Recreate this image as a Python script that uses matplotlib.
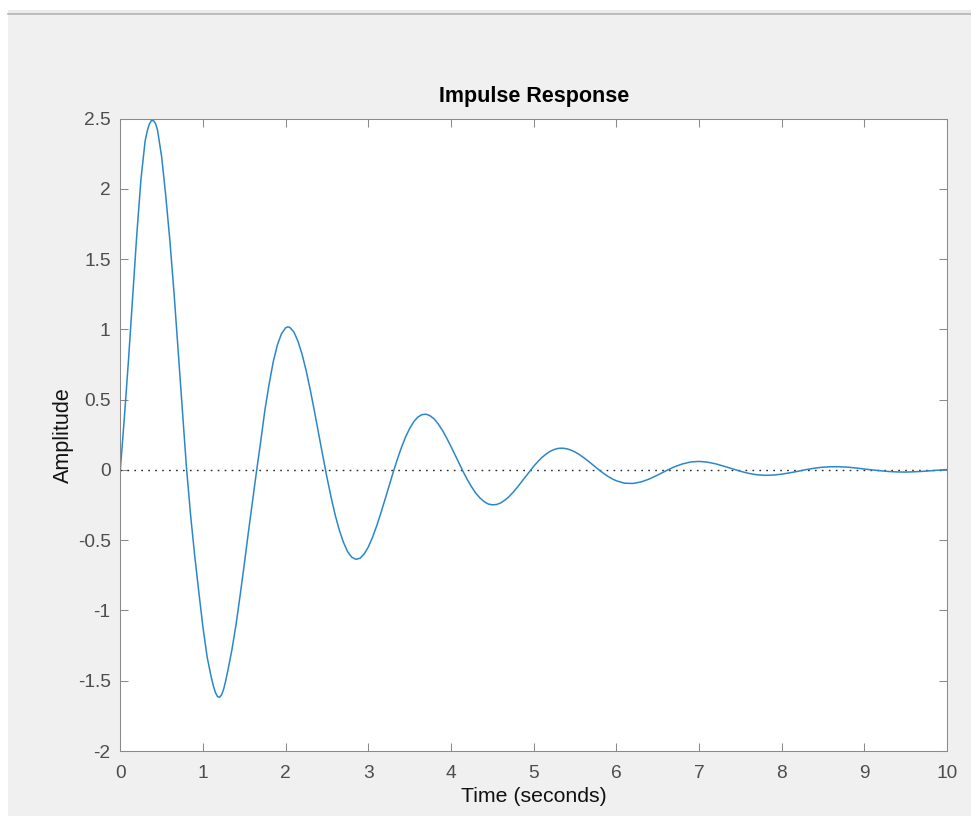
"""
Impulse response of a lightly damped system, redrawn in the look of a
MATLAB figure window.
"""

import matplotlib
matplotlib.use("Agg")
import matplotlib.pyplot as plt
from matplotlib.patches import Rectangle
from matplotlib.lines import Line2D


# ==================== 1. Data ====================

time_s = [
    0.00, 0.05, 0.10, 0.15, 0.20, 0.25, 0.30, 0.325, 0.35, 0.375,
    0.40, 0.425, 0.45, 0.50, 0.55, 0.60, 0.65, 0.70, 0.75, 0.80,
    0.85, 0.90, 0.95, 1.00, 1.05, 1.10, 1.125, 1.15, 1.175, 1.20,
    1.225, 1.25, 1.275, 1.30, 1.35, 1.40, 1.45, 1.50, 1.55, 1.60,
    1.65, 1.70, 1.75, 1.80, 1.85, 1.90, 1.95, 2.00, 2.025, 2.05,
    2.10, 2.15, 2.20, 2.25, 2.30, 2.35, 2.40, 2.45, 2.50, 2.55,
    2.60, 2.65, 2.70, 2.75, 2.80, 2.85, 2.90, 2.95, 3.00, 3.05,
    3.10, 3.15, 3.20, 3.25, 3.30, 3.35, 3.40, 3.45, 3.50, 3.55,
    3.60, 3.65, 3.70, 3.75, 3.80, 3.85, 3.90, 3.95, 4.00, 4.05,
    4.10, 4.15, 4.20, 4.25, 4.30, 4.35, 4.40, 4.45, 4.50, 4.55,
    4.60, 4.65, 4.70, 4.75, 4.80, 4.85, 4.90, 4.95, 5.00, 5.05,
    5.10, 5.15, 5.20, 5.25, 5.30, 5.35, 5.40, 5.45, 5.50, 5.55,
    5.60, 5.65, 5.70, 5.75, 5.80, 5.85, 5.90, 5.95, 6.0, 6.1,
    6.2, 6.3, 6.4, 6.5, 6.6, 6.7, 6.8, 6.9, 7.0, 7.1,
    7.2, 7.3, 7.4, 7.5, 7.6, 7.7, 7.8, 7.9, 8.0, 8.1,
    8.2, 8.3, 8.4, 8.5, 8.6, 8.7, 8.8, 8.9, 9.0, 9.1,
    9.2, 9.3, 9.4, 9.5, 9.6, 9.7, 9.8, 9.9, 10.0,
]

amplitude = [
    0.00, 0.38, 0.79, 1.23, 1.68, 2.07, 2.34, 2.41, 2.46, 2.486,
    2.487, 2.467, 2.42, 2.23, 1.95, 1.63, 1.26, 0.85, 0.43, 0.02,
    -0.32, -0.61, -0.87, -1.12, -1.33, -1.475, -1.535, -1.583, -1.612, -1.618,
    -1.600, -1.560, -1.500, -1.430, -1.280, -1.100, -0.890, -0.670, -0.440, -0.220,
    0.000, 0.21, 0.43, 0.61, 0.77, 0.89, 0.97, 1.012, 1.018, 1.015,
    0.982, 0.915, 0.821, 0.702, 0.564, 0.413, 0.256, 0.099, -0.053, -0.195,
    -0.322, -0.430, -0.516, -0.582, -0.621, -0.636, -0.628, -0.598, -0.548, -0.481,
    -0.400, -0.310, -0.214, -0.115, -0.018, 0.074, 0.159, 0.234, 0.295, 0.344,
    0.377, 0.394, 0.397, 0.385, 0.361, 0.324, 0.279, 0.225, 0.167, 0.106,
    0.044, -0.015, -0.071, -0.121, -0.165, -0.199, -0.225, -0.242, -0.248, -0.246,
    -0.235, -0.216, -0.191, -0.160, -0.125, -0.087, -0.049, -0.011, 0.026, 0.059,
    0.089, 0.113, 0.133, 0.146, 0.154, 0.155, 0.151, 0.142, 0.128, 0.111,
    0.090, 0.068, 0.044, 0.020, -0.004, -0.026, -0.046, -0.063, -0.077, -0.094,
    -0.096, -0.085, -0.064, -0.036, -0.006, 0.022, 0.043, 0.057, 0.061, 0.056,
    0.044, 0.027, 0.009, -0.009, -0.024, -0.034, -0.038, -0.036, -0.030, -0.020,
    -0.009, 0.003, 0.013, 0.020, 0.023, 0.023, 0.020, 0.014, 0.007, 0.000,
    -0.006, -0.011, -0.014, -0.015, -0.013, -0.010, -0.006, -0.001, 0.003,
]

x_ticks = [0, 1, 2, 3, 4, 5, 6, 7, 8, 9, 10]
y_ticks = [-2, -1.5, -1, -0.5, 0, 0.5, 1, 1.5, 2, 2.5]
y_tick_labels = ["-2", "-1.5", "-1", "-0.5", "0", "0.5", "1", "1.5", "2", "2.5"]


# ==================== 2. Style ====================

plt.rcParams.update({
    "font.family": ["Liberation Sans", "DejaVu Sans"],
    "axes.unicode_minus": False,
    "axes.linewidth": 0.75,
})

W, H = 971, 821
fig = plt.figure(figsize=(W / 100, H / 100), dpi=100)
fig.patch.set_facecolor("white")

# window chrome: grey panel, thin top band and separator line
fig.patches.append(Rectangle((8 / W, 1 - 816 / H), (W - 8) / W, (816 - 14) / H,
                             transform=fig.transFigure, facecolor="#f0f0f0",
                             edgecolor="none", zorder=-10))
fig.patches.append(Rectangle((8 / W, 1 - 14 / H), (W - 8) / W, 4 / H,
                             transform=fig.transFigure, facecolor="#ebebeb",
                             edgecolor="none", zorder=-9))
fig.lines.append(Line2D([8 / W, 1], [1 - 14.3 / H, 1 - 14.3 / H],
                        transform=fig.transFigure, color="#b3b3b3", lw=1.2))


# ==================== 3. Plot ====================

ax = fig.add_axes([120.3 / W, 1 - 751 / H, (947 - 120.3) / W, (751 - 118.7) / H])
ax.set_facecolor("white")

ax.plot([0, 10], [0, 0], linestyle=(0, (1.2, 3.8)), color="#262626", lw=1.0)
ax.plot(time_s, amplitude, color="#2b87cc", lw=1.1,
        solid_joinstyle="round", solid_capstyle="round")

ax.set_xlim(0, 10)
ax.set_ylim(-2, 2.5)
ax.set_xticks(x_ticks)
ax.set_xticklabels([str(t) for t in x_ticks])
ax.set_yticks(y_ticks)
ax.set_yticklabels(y_tick_labels)

axis_grey = "#8a8a8a"
for side in ["left", "right", "top", "bottom"]:
    ax.spines[side].set_color(axis_grey)

ax.tick_params(direction="in", length=5.5, width=0.75, color=axis_grey,
               top=True, right=True, labelsize=13.8, labelcolor="#4d4d4d")
ax.tick_params(axis="x", pad=10)
ax.tick_params(axis="y", pad=7)

ax.set_title("Impulse Response", fontsize=15.5, fontweight="bold",
             color="black", pad=12)
ax.set_xlabel("Time (seconds)", fontsize=15.3, color="#111111", labelpad=4)
ax.set_ylabel("Amplitude", fontsize=15.5, color="#111111", labelpad=3)

fig.savefig("out.png", dpi=100)
